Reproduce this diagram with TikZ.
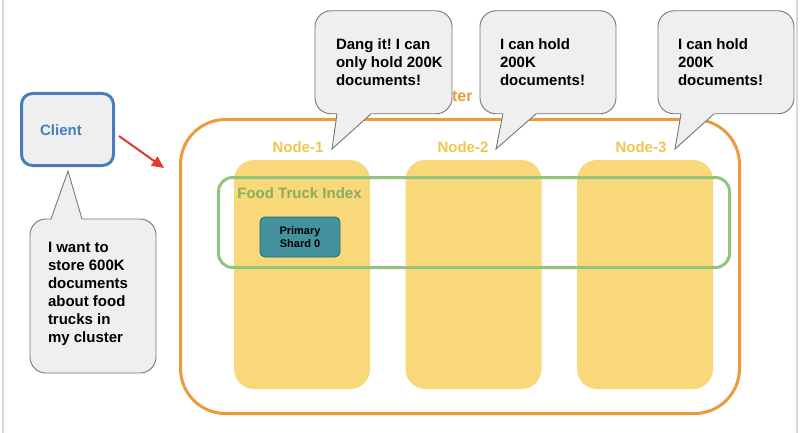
\documentclass[tikz,border=0pt]{standalone}
\usepackage{fontspec}
\setmainfont{Liberation Sans}
\usetikzlibrary{arrows.meta}
\definecolor{bubfill}{HTML}{EFEFEF}
\definecolor{bubline}{HTML}{777777}
\definecolor{clientblue}{HTML}{4A7EBB}
\definecolor{clorange}{HTML}{EC9A3C}
\definecolor{nodeyel}{HTML}{F8D878}
\definecolor{nodelab}{HTML}{F1C550}
\definecolor{idxgreen}{HTML}{93C47D}
\definecolor{idxtext}{HTML}{86AE62}
\definecolor{shardfill}{HTML}{45929F}
\definecolor{sharddraw}{HTML}{2C6470}
\definecolor{arrowred}{HTML}{E03A2E}
\definecolor{edgegray}{HTML}{D8D8D8}
\frenchspacing
\begin{document}
\begin{tikzpicture}[x=1pt,y=-1pt,
  every node/.style={inner sep=0pt, outer sep=0pt},
  clusterbox/.style={draw=clorange, line width=3pt, rounded corners=45pt},
  esnode/.style={fill=nodeyel, rounded corners=20pt, minimum width=136pt, minimum height=229pt},
  nodelabel/.style={text=nodelab, font=\fontsize{15}{18}\selectfont\bfseries},
  indexbox/.style={draw=idxgreen, line width=3pt, rounded corners=14pt},
  shardbox/.style={fill=shardfill, draw=sharddraw, line width=0.8pt, rounded corners=5pt,
     minimum width=80pt, minimum height=40pt, align=center, font=\fontsize{11}{13}\selectfont\bfseries},
  clientbox/.style={draw=clientblue, fill=bubfill, line width=3pt, rounded corners=11pt},
  bubble/.style={fill=bubfill, draw=bubline, line width=0.9pt, rounded corners=16pt},
  tailfill/.style={fill=bubfill},
  tailline/.style={draw=bubline, line width=0.9pt, line join=miter},
  bubtext/.style={anchor=west, align=left, font=\fontsize{15}{18}\selectfont\bfseries},
  reqarrow/.style={draw=arrowred, line width=2pt, -{Triangle[length=12pt,width=11pt]}}
]
\useasboundingbox (0,0) rectangle (800,433);
\fill[white] (0,0) rectangle (800,433);
\draw[edgegray, line width=1.5pt] (3,0) -- (3,433);
\draw[edgegray, line width=1.5pt] (797,0) -- (797,433);

% cluster
\node[clusterbox, minimum width=559pt, minimum height=294pt] (cluster) at (460,266.5) {};
\node[text=clorange, font=\fontsize{16}{19}\selectfont\bfseries] (clusterlab) at (445,96) {Cluster};

% ES nodes
\node[esnode] (n1) at (302,274.5) {};
\node[esnode] (n2) at (473.5,274.5) {};
\node[esnode] (n3) at (645,274.5) {};
\node[nodelabel] (n1lab) at (298,147) {Node-1};
\node[nodelabel] (n2lab) at (463,147) {Node-2};
\node[nodelabel] (n3lab) at (641,147) {Node-3};

% index
\node[indexbox, minimum width=511pt, minimum height=90pt] (index) at (474,222.5) {};
\node[text=idxtext, font=\fontsize{15}{18}\selectfont\bfseries] (indexlab) at (299.5,193) {Food Truck Index};
\node[shardbox] (shard) at (300,237) {Primary\\Shard 0};

% client
\node[clientbox, minimum width=92pt, minimum height=72pt] (client) at (67.5,129.5) {};
\node[text=clientblue, font=\fontsize{15}{18}\selectfont\bfseries] (clientlab) at (61,130) {Client};
\coordinate (arrowstart) at (119,136);
\coordinate (arrowend) at (164,168);
\draw[reqarrow] (arrowstart) -- (arrowend);

% client bubble
\node[bubble, minimum width=126pt, minimum height=154pt] (b0) at (93,296) {};
\coordinate (b0l) at (51,219);
\coordinate (b0r) at (82,219);
\coordinate (b0tip) at (68,171);
\fill[tailfill] (b0l) -- (b0tip) -- (b0r) -- (82,223) -- (51,223) -- cycle;
\draw[tailline] (b0l) -- (b0tip) -- (b0r);
\node[bubtext] (t0) at (48,294) {I want to\\store 600K\\documents\\about food\\trucks in\\my cluster};

% node bubbles
\node[bubble, minimum width=137pt, minimum height=103pt] (b1) at (383.5,62.3) {};
\coordinate (b1l) at (337,113.8);
\coordinate (b1r) at (371,113.8);
\coordinate (b1tip) at (332,149);
\fill[tailfill] (b1l) -- (b1tip) -- (b1r) -- (371,109) -- (337,109) -- cycle;
\draw[tailline] (b1l) -- (b1tip) -- (b1r);
\node[bubtext] (t1) at (336,62) {Dang it! I can\\only hold 200K\\documents!};

\node[bubble, minimum width=136pt, minimum height=103pt] (b2) at (548,62.3) {};
\coordinate (b2l) at (503,113.8);
\coordinate (b2r) at (536,113.8);
\coordinate (b2tip) at (496,149);
\fill[tailfill] (b2l) -- (b2tip) -- (b2r) -- (536,109) -- (503,109) -- cycle;
\draw[tailline] (b2l) -- (b2tip) -- (b2r);
\node[bubtext] (t2) at (500,62) {I can hold\\200K\\documents!};

\node[bubble, minimum width=136pt, minimum height=103pt] (b3) at (726,62.3) {};
\coordinate (b3l) at (681,113.8);
\coordinate (b3r) at (714,113.8);
\coordinate (b3tip) at (675,149);
\fill[tailfill] (b3l) -- (b3tip) -- (b3r) -- (714,109) -- (681,109) -- cycle;
\draw[tailline] (b3l) -- (b3tip) -- (b3r);
\node[bubtext] (t3) at (678,62) {I can hold\\200K\\documents!};
\end{tikzpicture}
\end{document}
